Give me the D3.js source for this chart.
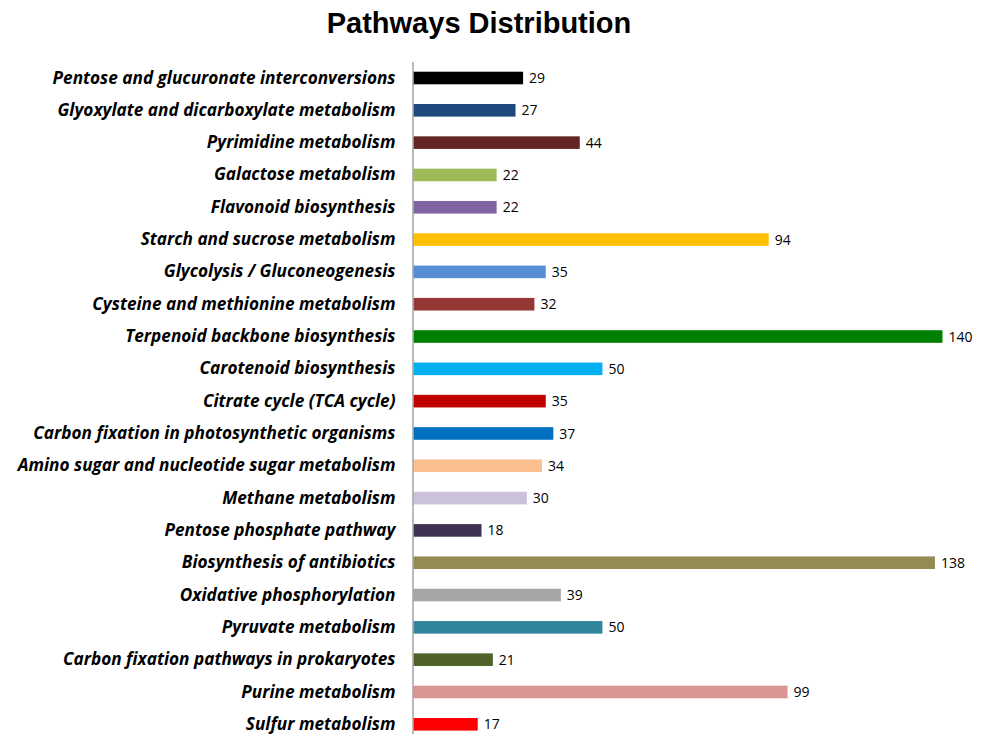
<!DOCTYPE html>
<html>
<head>
<meta charset="utf-8">
<script src="https://cdn.jsdelivr.net/npm/d3@7"></script>
<style>
  html, body { margin: 0; padding: 0; background: #fff; }
  svg { display: block; }
</style>
</head>
<body>
<svg id="chart" width="986" height="734"></svg>
<script>
// Pathway names, top to bottom
const pathways = [
  "Pentose and glucuronate interconversions",
  "Glyoxylate and dicarboxylate metabolism",
  "Pyrimidine metabolism",
  "Galactose metabolism",
  "Flavonoid biosynthesis",
  "Starch and sucrose metabolism",
  "Glycolysis / Gluconeogenesis",
  "Cysteine and methionine metabolism",
  "Terpenoid backbone biosynthesis",
  "Carotenoid biosynthesis",
  "Citrate cycle (TCA cycle)",
  "Carbon fixation in photosynthetic organisms",
  "Amino sugar and nucleotide sugar metabolism",
  "Methane metabolism",
  "Pentose phosphate pathway",
  "Biosynthesis of antibiotics",
  "Oxidative phosphorylation",
  "Pyruvate metabolism",
  "Carbon fixation pathways in prokaryotes",
  "Purine metabolism",
  "Sulfur metabolism"
];

// Gene counts per pathway
const counts = [29, 27, 44, 22, 22, 94, 35, 32, 140, 50, 35, 37, 34, 30, 18, 138, 39, 50, 21, 99, 17];

// Bar fill per pathway
const barColors = [
  "#000000", "#1F497D", "#632523", "#9BBB59", "#8064A2", "#FFC000", "#558ED5",
  "#953735", "#008000", "#00B0F0", "#C00000", "#0070C0", "#FAC090", "#CCC1DA",
  "#3F3151", "#948A54", "#A6A6A6", "#31859C", "#4F6228", "#D99694", "#FF0000"
];

const titleText = "Pathways Distribution";

const svg = d3.select("#chart");
const W = 986, H = 734;

const x0 = 413.5;
const x = d3.scaleLinear().domain([0, 140]).range([x0, 942.5]);

const firstCenter = 78, lastCenter = 724.3;
const step = (lastCenter - firstCenter) / (pathways.length - 1);
const y = d3.scaleBand()
  .domain(pathways)
  .range([firstCenter - step / 2, lastCenter + step / 2])
  .paddingInner(1 - 12.6 / step)
  .paddingOuter((1 - 12.6 / step) / 2);

// Title
svg.append("text")
  .attr("x", 479)
  .attr("y", 33)
  .attr("text-anchor", "middle")
  .style("font-family", "'Liberation Sans', Arial, sans-serif")
  .style("font-weight", "bold")
  .style("font-size", "29px")
  .attr("fill", "#000")
  .text(titleText);

// Bars
svg.append("g")
  .selectAll("rect")
  .data(pathways)
  .join("rect")
  .attr("x", x(0))
  .attr("y", d => y(d))
  .attr("width", (d, i) => x(counts[i]) - x(0))
  .attr("height", y.bandwidth())
  .attr("fill", (d, i) => barColors[i]);

// Value labels
svg.append("g")
  .selectAll("text")
  .data(pathways)
  .join("text")
  .attr("x", (d, i) => x(counts[i]) + 6)
  .attr("y", d => y(d) + y.bandwidth() / 2)
  .attr("dy", "0.36em")
  .style("font-family", "'Open Sans', sans-serif")
  .style("font-size", "14px")
  .attr("fill", "#000")
  .text((d, i) => counts[i]);

// Category axis: vertical line with bold italic labels
const axis = d3.axisLeft(y).tickSize(0).tickPadding(18);
const gAxis = svg.append("g")
  .attr("transform", `translate(${x0},0)`)
  .call(axis);
gAxis.select(".domain").remove();
gAxis.selectAll("text")
  .style("font-family", "'Open Sans', sans-serif")
  .style("font-weight", "bold")
  .style("font-style", "italic")
  .style("font-size", "17.2px")
  .attr("fill", "#000");

svg.append("line")
  .attr("x1", x0 - 0.5).attr("x2", x0 - 0.5)
  .attr("y1", 62).attr("y2", H)
  .attr("stroke", "#8c8c8c")
  .attr("stroke-width", 1.2);
</script>
</body>
</html>
